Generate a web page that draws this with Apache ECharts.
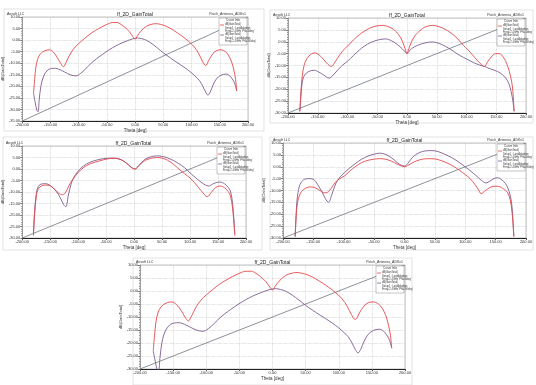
<!DOCTYPE html>
<html><head><meta charset="utf-8">
<script src="https://cdn.jsdelivr.net/npm/echarts@6/dist/echarts.min.js"></script>
<style>html,body{margin:0;padding:0;background:#fff}#c{width:536px;height:385px}</style>
</head><body><div id="c"></div>
<script>
// ---- data (theta in deg, gain in dB) ----
const chartTitle = "ff_2D_GainTotal";
const designName = "Patch_Antenna_ADKv1";
const cornerLabel = "Ansoft LLC";
const xLabel = "Theta [deg]";
const yLabel = "dB(GainTotal)";

const p1RedTheta = [-180,-178,-176,-173,-168,-160,-152,-145,-138,-132,-127,-122,-115,-108,-100,-90,-80,-70,-60,-50,-40,-32,-25,-18,-10,-4,0,4,10,20,30,37,45,55,65,75,85,95,105,113,119,125,131,138,145,152,160,166,171,175,178,180];
const p1Red = [-23,-17,-12,-8.5,-6,-4.6,-4.2,-5.2,-7.5,-10,-11.5,-9.5,-6,-3.5,-1.5,0.6,2.6,4.2,5.6,6.8,7.6,7.6,6.8,5.5,3.6,1.5,0.4,1.8,3.8,6,6.9,7.1,6.8,6,4.7,3.1,1.4,-0.6,-3,-6,-9,-11,-8.5,-5.8,-4.5,-4.2,-5,-6.8,-9.5,-13,-17,-22];
const p1PurTheta = [-180,-177,-174,-172,-170,-167,-162,-155,-148,-141,-133,-125,-115,-105,-97,-88,-78,-68,-58,-46,-35,-25,-15,-5,4,12,20,30,40,50,60,70,80,90,100,108,114,120,125,129,133,138,144,152,161,167,172,176,180];
const p1Pur = [-23,-27,-30.5,-31,-26,-20,-15.5,-13,-12.3,-12.2,-12.8,-13.8,-15,-15.5,-14.5,-12.5,-10,-8,-6.2,-4.2,-2.6,-1.4,-0.4,0.5,0.9,0.6,-0.1,-1.6,-3.5,-5.5,-7.3,-9,-10.6,-12.3,-14.2,-16,-17.5,-20,-22.5,-23.8,-22.5,-19.5,-16.8,-15.2,-14.7,-15.3,-16.8,-18.5,-22];

const p2RedTheta = [-180,-178,-176,-173,-168,-161,-155,-148,-140,-133,-127,-121,-113,-105,-100,-90,-80,-72,-62,-52,-41,-32,-22,-14,-8,-3,0,3,8,14,18,26,34,43,52,62,74,85,95,102,110,118,125,130,136,143,149,155,162,168,172,176,178,180];
const p2Red = [-29.3,-20,-14.5,-10,-7,-5.2,-4.7,-5.5,-7.5,-9.5,-10.4,-8.5,-5.5,-3,-1.9,0.8,3,4.4,5.8,6.6,6.9,6.4,5.1,3,0.3,-3,-5,-3,0.2,2.8,3.8,5.6,6.5,6.9,6.5,5.5,3.7,1.3,-1.6,-3.3,-5.5,-7.8,-9.6,-10.4,-8.2,-6,-5,-5,-6.5,-9.5,-12.5,-17,-21,-29.3];
const p2PurTheta = [-180,-178,-176,-172,-165,-156,-148,-140,-131,-124,-115,-108,-100,-90,-80,-72,-60,-48,-36,-26,-16,-8,-3,0,3,8,18,30,43,55,65,74,85,95,102,112,122,130,140,152,160,166,171,175,178,180];
const p2Pur = [-29.3,-22,-17,-14,-12.5,-12,-12.8,-14,-15.3,-14,-11.5,-9.8,-8.2,-5.8,-3.5,-1.9,-0.2,0.8,1.2,0.4,-1.2,-3,-4.3,-5,-4.2,-2.8,-1.5,-0.5,-0.1,-0.8,-2,-3.3,-5.2,-6.6,-7.5,-8.8,-9.8,-10.4,-11.4,-12.5,-13.8,-15.3,-17.5,-21,-25,-29.3];

const p3RedTheta = [-180,-178,-175,-171,-165,-158,-150,-142,-135,-128,-122,-115,-105,-95,-85,-75,-65,-55,-45,-35,-25,-18,-10,-4,2,8,14,20,30,40,50,60,71,80,90,100,110,120,131,138,146,154,162,168,172,176,180];
const p3Red = [-29,-20,-12,-8.5,-7.3,-7,-7.3,-8.8,-10.5,-11.2,-10,-6.5,-3,-0.3,1.5,2.6,3.3,4,4.5,4.7,4.2,3.3,1.8,0.5,0,1.3,2.7,3.8,4.6,5,4.7,3.8,1.9,0,-2,-3.9,-6.5,-9.5,-12,-10.2,-8,-7.4,-8.2,-9.8,-11.5,-17,-29];
const p3PurTheta = [-180,-178,-175,-171,-165,-158,-150,-140,-132,-126,-122,-118,-112,-105,-95,-85,-75,-65,-55,-45,-35,-25,-18,-10,-4,2,8,14,20,30,40,50,60,71,80,90,100,110,120,128,133,140,147,154,162,168,172,176,180];
const p3Pur = [-28,-19,-11,-7.5,-6.5,-6.4,-7.2,-9.5,-12.5,-15.5,-16.4,-12,-6,-2.5,0.4,2.2,3.3,4,4.5,4.7,4.7,4.2,3.3,1.8,0.5,0,1.5,3,4.3,5.3,5.7,5.5,4.8,3.6,2.3,0.6,-1.7,-3.8,-5.8,-7,-7.4,-6.6,-5.9,-5.7,-6.5,-8,-9.5,-15,-28];

const p4RedTheta = [-180,-178,-176,-172,-166,-158,-153,-146,-138,-131,-125,-118,-110,-99,-90,-80,-71,-60,-50,-41,-32,-22,-12,-5,0,5,12,20,30,40,50,60,70,80,90,100,108,116,122,126,132,140,146,153,160,166,170,174,177,180];
const p4Red = [-29.4,-20,-15,-11.5,-9.5,-8.6,-8.5,-9,-10.2,-11,-10.5,-8,-5.6,-3.9,-1.8,0.2,1.7,2.7,3.2,3.4,3.2,2.4,1.1,0.3,0,0.5,1.5,2.5,3.2,3.4,3.3,2.6,1.6,0.3,-1.4,-3.3,-5,-7.5,-9.8,-11.3,-10.3,-8.8,-8.3,-8.2,-8.8,-10,-11,-14,-19,-29.4];
const p4PurTheta = [-180,-178,-176,-172,-166,-158,-150,-143,-136,-130,-125,-120,-113,-106,-99,-90,-80,-71,-60,-50,-41,-32,-22,-12,-5,0,5,10,16,25,35,45,55,66,78,88,98,108,118,127,134,141,147,153,160,166,170,174,177,180];
const p4Pur = [-29.4,-18,-12,-7.5,-5.5,-5,-5.3,-7.5,-10.5,-13.5,-15,-12,-7,-4.3,-2.5,-0.5,1.5,3.1,4.5,5.3,5.7,5.3,3.9,1.8,0.6,0.3,1.3,3,4.6,6,6.7,6.8,6.4,5.3,3.8,2.2,0.3,-1.6,-3.8,-5.8,-6.8,-6,-5,-4.6,-5.5,-7,-8.9,-12,-17,-29.4];

const p5RedTheta = [-180,-178,-176,-173,-168,-160,-152,-145,-138,-132,-127,-122,-115,-108,-100,-90,-80,-70,-60,-50,-40,-32,-25,-18,-10,-4,0,4,10,20,30,37,45,55,65,75,85,95,105,113,119,125,131,138,145,152,160,166,171,175,178,180];
const p5Red = [-23,-17,-12,-8.5,-6,-4.6,-4.2,-5.2,-7.5,-10,-11.5,-9.5,-6,-3.5,-1.5,0.6,2.6,4.2,5.6,6.8,7.6,7.6,6.8,5.5,3.6,1.5,0.4,1.8,3.8,6,6.9,7.1,6.8,6,4.7,3.1,1.4,-0.6,-3,-6,-9,-11,-8.5,-5.8,-4.5,-4.2,-5,-6.8,-9.5,-13,-17,-22];
const p5PurTheta = [-180,-177,-174,-172,-170,-167,-162,-155,-148,-141,-133,-125,-115,-105,-97,-88,-78,-68,-58,-46,-35,-25,-15,-5,4,12,20,30,40,50,60,70,80,90,100,108,114,120,125,129,133,138,144,152,161,167,172,176,180];
const p5Pur = [-23,-27,-30.5,-31,-26,-20,-15.5,-13,-12.3,-12.2,-12.8,-13.8,-15,-15.5,-14.5,-12.5,-10,-8,-6.2,-4.2,-2.6,-1.4,-0.4,0.5,0.9,0.6,-0.1,-1.6,-3.5,-5.5,-7.3,-9,-10.6,-12.3,-14.2,-16,-17.5,-20,-22.5,-23.8,-22.5,-19.5,-16.8,-15.2,-14.7,-15.3,-16.8,-18.5,-22];

const xRange = [-200, 200];
const xStep = 50;
const yRanges = [[-35,10],[-30,10],[-30,10],[-30,10],[-30,10]];
const yStep = 5;

// ---- layout (px) ----
const grids = [
  {left:22, top:17, width:226, height:104, frame:[4,9,260,122]},
  {left:288, top:18, width:238, height:95, frame:[270,10,263,113]},
  {left:21, top:146, width:225, height:92, frame:[3,137,259,113]},
  {left:283, top:143, width:243, height:95, frame:[270,137,263,113]},
  {left:140, top:265, width:265, height:104, frame:[133,258,279,127]}
];
const panels = [
  [p1RedTheta,p1Red,p1PurTheta,p1Pur],
  [p2RedTheta,p2Red,p2PurTheta,p2Pur],
  [p3RedTheta,p3Red,p3PurTheta,p3Pur],
  [p4RedTheta,p4Red,p4PurTheta,p4Pur],
  [p5RedTheta,p5Red,p5PurTheta,p5Pur]
];
const RED = '#e4474b', PUR = '#7d5b8f', DIAG = '#6f7580';
const zip = (a,b)=>a.map((t,i)=>[t,b[i]]);

const option = {
  animation:false, backgroundColor:'#fff',
  grid:[], xAxis:[], yAxis:[], series:[], graphic:[]
};
grids.forEach((g,i)=>{
  option.grid.push({left:g.left, top:g.top, width:g.width, height:g.height, show:true, borderColor:'#9a9a9a', borderWidth:0.6});
  option.xAxis.push({gridIndex:i, type:'value', min:xRange[0], max:xRange[1], interval:xStep,
    name:xLabel, nameLocation:'middle', nameGap:6, nameTextStyle:{fontSize:4.5,color:'#333'},
    axisLine:{onZero:false,lineStyle:{color:'#222',width:1.2}}, axisTick:{length:2,lineStyle:{color:'#555'}},
    axisLabel:{fontSize:4,color:'#333',margin:2,formatter:v=>v.toFixed(2)},
    splitLine:{show:true,lineStyle:{type:'dotted',color:'#bdbdbd',width:0.6}}});
  const yr = yRanges[i];
  option.yAxis.push({gridIndex:i, type:'value', min:yr[0], max:yr[1], interval:yStep,
    name:yLabel, nameLocation:'middle', nameGap:14, nameTextStyle:{fontSize:4,color:'#333'},
    axisLine:{show:true,onZero:false,lineStyle:{color:'#777',width:0.6}}, axisTick:{length:2,lineStyle:{color:'#777'}},
    minorTick:{show:true,splitNumber:5,length:1,lineStyle:{color:'#999'}},
    axisLabel:{fontSize:4,color:'#333',margin:2,formatter:v=>v.toFixed(2)},
    splitLine:{show:true,lineStyle:{type:'dotted',color:'#bdbdbd',width:0.6}}});
  const p = panels[i];
  option.series.push({type:'line',xAxisIndex:i,yAxisIndex:i,data:[[xRange[0],yr[0]],[xRange[1],yr[1]]],
    symbol:'none',lineStyle:{color:DIAG,width:0.8},z:1});
  option.series.push({type:'line',xAxisIndex:i,yAxisIndex:i,data:zip(p[2],p[3]),smooth:0.35,
    symbol:'none',lineStyle:{color:PUR,width:0.9},z:2});
  option.series.push({type:'line',xAxisIndex:i,yAxisIndex:i,data:zip(p[0],p[1]),smooth:0.35,
    symbol:'none',lineStyle:{color:RED,width:0.9},z:3});
  const f = g.frame;
  option.graphic.push({type:'rect',shape:{x:f[0],y:f[1],width:f[2],height:f[3]},style:{fill:'none',stroke:'#d0d0d0',lineWidth:0.6},z:-1});
  option.graphic.push({type:'text',x:g.left+g.width/2,y:g.top-5,style:{text:chartTitle,font:'5px Arial',fill:'#222',textAlign:'center'}});
  option.graphic.push({type:'text',x:f[0]+3,y:g.top-5,style:{text:cornerLabel,font:'3.5px Arial',fill:'#333'}});
  option.graphic.push({type:'text',x:g.left+g.width-2,y:g.top-5,style:{text:designName,font:'3.5px Arial',fill:'#333',textAlign:'right'}});
  const lx = g.left+g.width-29, ly = g.top+1;
  option.graphic.push({type:'rect',shape:{x:lx,y:ly,width:28,height:27},style:{fill:'#fff',stroke:'#888',lineWidth:0.5},z:10});
  option.graphic.push({type:'text',x:lx+14,y:ly+1,style:{text:'Curve Info',font:'3px Arial',fill:'#333',textAlign:'center'},z:11});
  option.graphic.push({type:'line',shape:{x1:lx+1,y1:ly+7,x2:lx+5,y2:ly+7},style:{stroke:RED,lineWidth:0.8},z:11});
  option.graphic.push({type:'text',x:lx+6,y:ly+5,style:{text:'dB(GainTotal)\nSetup1 : LastAdaptive\nFreq=\'2.4GHz\' Phi=\'0deg\'',font:'2.6px Arial',fill:'#333',lineHeight:3.2},z:11});
  option.graphic.push({type:'line',shape:{x1:lx+1,y1:ly+17,x2:lx+5,y2:ly+17},style:{stroke:PUR,lineWidth:0.8},z:11});
  option.graphic.push({type:'text',x:lx+6,y:ly+15,style:{text:'dB(GainTotal)\nSetup1 : LastAdaptive\nFreq=\'2.4GHz\' Phi=\'90deg\'',font:'2.6px Arial',fill:'#333',lineHeight:3.2},z:11});
});
const chart = echarts.init(document.getElementById('c'),null,{renderer:'canvas'});
chart.setOption(option);
</script></body></html>
